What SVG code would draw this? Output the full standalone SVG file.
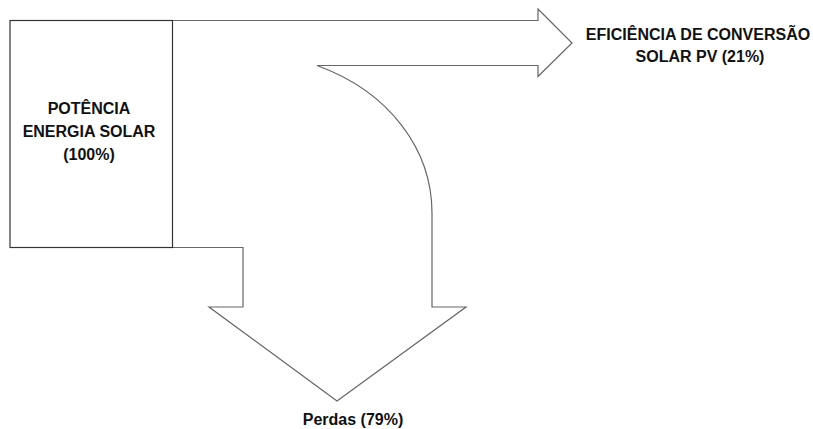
<svg xmlns="http://www.w3.org/2000/svg" width="813" height="429" viewBox="0 0 813 429">
  <style>
    .lbl { font-family: "Liberation Sans", Arial, sans-serif; font-weight: bold; font-size: 16px; fill: #111; text-anchor: middle; }
    .box { fill: none; stroke: #333; stroke-width: 1.2; }
    .flow { fill: none; stroke: #666; stroke-width: 1.2; stroke-linejoin: miter; }
  </style>
  <rect width="813" height="429" fill="#fff"/>
  <g id="connectors">
    <path class="flow" d="M172.5,20.5 H538 V9 L572,43 L538,76.5 V65.5 H317 C390,92 432,150 432,213 V307 H466 L337,401 L209,307 H243 V247.5 H172.5"/>
  </g>
  <g id="source">
    <rect class="box" x="10" y="20.5" width="162.5" height="227"/>
    <text class="lbl" x="89" y="114">POTÊNCIA</text>
    <text class="lbl" x="89" y="137">ENERGIA SOLAR</text>
    <text class="lbl" x="89" y="160">(100%)</text>
  </g>
  <g id="efficiency">
    <text class="lbl" x="698" y="40">EFICIÊNCIA DE CONVERSÃO</text>
    <text class="lbl" x="700" y="62">SOLAR PV (21%)</text>
  </g>
  <g id="losses">
    <text class="lbl" x="353" y="425">Perdas (79%)</text>
  </g>
</svg>
